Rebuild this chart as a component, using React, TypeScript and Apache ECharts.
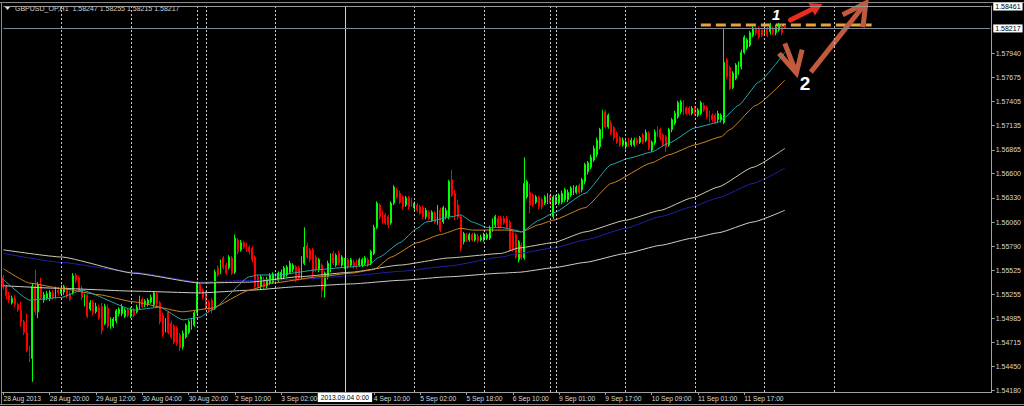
import React, { useEffect, useRef } from "react";
import * as echarts from "echarts";

// Hourly bars, each [open, high, low, close]
const aug28 = [
  [1.5544,1.5547,1.5531,1.5534],[1.5534,1.5536,1.5520,1.5524],[1.5524,1.5528,1.5516,1.5519],[1.5516,1.5524,1.5514,1.5521],
  [1.5521,1.5524,1.5511,1.5514],[1.5514,1.5516,1.5506,1.5508],[1.5508,1.5517,1.5489,1.5495],[1.5495,1.5497,1.5480,1.5483],
  [1.5483,1.5504,1.5461,1.5463],[1.5463,1.5468,1.5450,1.5454],[1.5454,1.5538,1.5428,1.5534],[1.5534,1.5553,1.5502,1.5506],
  [1.5506,1.5539,1.5499,1.5536],[1.5536,1.5544,1.5519,1.5522],[1.5519,1.5528,1.5516,1.5525],[1.5521,1.5529,1.5519,1.5526],
  [1.5521,1.5530,1.5518,1.5528],[1.5527,1.5530,1.5519,1.5522],[1.5524,1.5534,1.5521,1.5531],[1.5530,1.5534,1.5524,1.5527],
];
const aug29 = [
  [1.5526,1.5536,1.5524,1.5532],[1.5528,1.5536,1.5525,1.5534],[1.5531,1.5534,1.5521,1.5524],[1.5526,1.5529,1.5518,1.5520],
  [1.5527,1.5549,1.5525,1.5546],[1.5547,1.5549,1.5538,1.5541],[1.5544,1.5546,1.5528,1.5530],[1.5531,1.5535,1.5519,1.5522],
  [1.5516,1.5526,1.5512,1.5524],[1.5524,1.5526,1.5499,1.5501],[1.5509,1.5519,1.5507,1.5516],[1.5516,1.5519,1.5502,1.5505],
  [1.5506,1.5516,1.5504,1.5512],[1.5510,1.5514,1.5497,1.5499],[1.5512,1.5516,1.5481,1.5485],[1.5493,1.5515,1.5491,1.5512],
  [1.5510,1.5514,1.5488,1.5490],[1.5489,1.5500,1.5487,1.5498],[1.5490,1.5500,1.5488,1.5498],[1.5496,1.5509,1.5493,1.5507],
  [1.5504,1.5511,1.5501,1.5509],[1.5504,1.5515,1.5501,1.5512],[1.5501,1.5510,1.5499,1.5508],[1.5508,1.5510,1.5500,1.5502],
];
const aug30 = [
  [1.5501,1.5511,1.5499,1.5509],[1.5508,1.5510,1.5500,1.5502],[1.5506,1.5514,1.5504,1.5511],[1.5511,1.5524,1.5509,1.5521],
  [1.5520,1.5522,1.5510,1.5512],[1.5514,1.5520,1.5511,1.5518],[1.5515,1.5521,1.5512,1.5519],[1.5517,1.5525,1.5515,1.5522],
  [1.5514,1.5529,1.5511,1.5527],[1.5526,1.5528,1.5512,1.5515],[1.5516,1.5518,1.5492,1.5495],[1.5502,1.5505,1.5478,1.5480],
  [1.5486,1.5499,1.5483,1.5497],[1.5505,1.5507,1.5481,1.5483],[1.5493,1.5496,1.5476,1.5478],[1.5490,1.5492,1.5470,1.5472],
  [1.5488,1.5490,1.5468,1.5471],[1.5480,1.5482,1.5462,1.5466],[1.5467,1.5485,1.5464,1.5482],[1.5478,1.5493,1.5476,1.5491],
  [1.5483,1.5497,1.5481,1.5495],[1.5488,1.5499,1.5486,1.5497],[1.5491,1.5507,1.5489,1.5505],
];
const sep01 = [
  [1.5505,1.5540,1.5502,1.5538],[1.5536,1.5539,1.5526,1.5528],[1.5530,1.5532,1.5520,1.5522],
];
const sep02 = [
  [1.5527,1.5529,1.5508,1.5510],[1.5517,1.5519,1.5505,1.5508],[1.5519,1.5521,1.5504,1.5508],[1.5510,1.5553,1.5508,1.5550],
  [1.5555,1.5558,1.5545,1.5547],[1.5550,1.5564,1.5548,1.5561],[1.5566,1.5568,1.5553,1.5555],[1.5558,1.5561,1.5547,1.5549],
  [1.5555,1.5569,1.5553,1.5567],[1.5566,1.5568,1.5547,1.5549],[1.5550,1.5592,1.5548,1.5588],[1.5586,1.5588,1.5570,1.5573],
  [1.5575,1.5586,1.5573,1.5583],[1.5583,1.5585,1.5576,1.5578],[1.5580,1.5583,1.5573,1.5575],[1.5578,1.5580,1.5570,1.5573],
  [1.5577,1.5579,1.5561,1.5564],[1.5567,1.5569,1.5531,1.5534],[1.5545,1.5547,1.5531,1.5534],[1.5534,1.5547,1.5531,1.5545],
  [1.5542,1.5545,1.5531,1.5534],[1.5535,1.5545,1.5532,1.5542],[1.5538,1.5549,1.5536,1.5547],[1.5539,1.5550,1.5537,1.5548],
];
const sep03 = [
  [1.5547,1.5549,1.5537,1.5539],[1.5541,1.5551,1.5539,1.5549],[1.5544,1.5553,1.5541,1.5550],[1.5545,1.5557,1.5542,1.5555],
  [1.5547,1.5558,1.5545,1.5556],[1.5550,1.5563,1.5548,1.5560],[1.5553,1.5560,1.5550,1.5558],[1.5556,1.5558,1.5539,1.5541],
  [1.5555,1.5557,1.5541,1.5544],[1.5545,1.5568,1.5542,1.5566],[1.5560,1.5600,1.5558,1.5578],[1.5580,1.5583,1.5565,1.5567],
  [1.5575,1.5577,1.5561,1.5564],[1.5575,1.5577,1.5544,1.5550],[1.5567,1.5569,1.5550,1.5553],[1.5553,1.5566,1.5550,1.5564],
  [1.5558,1.5560,1.5522,1.5530],[1.5534,1.5551,1.5522,1.5549],[1.5545,1.5563,1.5542,1.5560],[1.5553,1.5571,1.5550,1.5569],
  [1.5571,1.5574,1.5558,1.5560],[1.5558,1.5571,1.5556,1.5569],[1.5571,1.5574,1.5558,1.5560],[1.5558,1.5569,1.5556,1.5567],
];
const sep04 = [
  [1.5556,1.5566,1.5554,1.5564],[1.5564,1.5566,1.5554,1.5556],[1.5558,1.5566,1.5556,1.5564],[1.5561,1.5564,1.5554,1.5556],
  [1.5561,1.5564,1.5554,1.5556],[1.5558,1.5566,1.5556,1.5564],[1.5558,1.5566,1.5556,1.5564],[1.5560,1.5568,1.5558,1.5566],
  [1.5564,1.5566,1.5556,1.5558],[1.5560,1.5575,1.5558,1.5573],[1.5571,1.5603,1.5569,1.5600],[1.5600,1.5629,1.5598,1.5627],
  [1.5625,1.5627,1.5609,1.5612],[1.5617,1.5619,1.5604,1.5606],[1.5614,1.5616,1.5603,1.5605],[1.5612,1.5614,1.5599,1.5603],
  [1.5605,1.5629,1.5603,1.5627],[1.5627,1.5647,1.5625,1.5645],[1.5642,1.5644,1.5632,1.5634],[1.5638,1.5641,1.5626,1.5628],
  [1.5634,1.5636,1.5620,1.5623],[1.5625,1.5635,1.5623,1.5633],[1.5633,1.5635,1.5620,1.5623],[1.5631,1.5633,1.5623,1.5625],
];
const sep05 = [
  [1.5622,1.5629,1.5619,1.5627],[1.5625,1.5627,1.5617,1.5619],[1.5623,1.5625,1.5614,1.5616],[1.5622,1.5624,1.5609,1.5612],
  [1.5612,1.5622,1.5609,1.5619],[1.5617,1.5619,1.5608,1.5610],[1.5608,1.5619,1.5606,1.5617],[1.5616,1.5618,1.5604,1.5606],
  [1.5605,1.5625,1.5603,1.5623],[1.5619,1.5622,1.5595,1.5597],[1.5606,1.5624,1.5604,1.5622],[1.5612,1.5622,1.5609,1.5619],
  [1.5612,1.5653,1.5609,1.5651],[1.5653,1.5664,1.5634,1.5636],[1.5638,1.5642,1.5608,1.5614],[1.5625,1.5631,1.5609,1.5612],
  [1.5612,1.5614,1.5573,1.5577],[1.5584,1.5595,1.5581,1.5593],[1.5592,1.5594,1.5584,1.5586],[1.5586,1.5594,1.5584,1.5592],
  [1.5592,1.5594,1.5584,1.5586],[1.5586,1.5594,1.5584,1.5592],[1.5590,1.5593,1.5583,1.5585],[1.5586,1.5592,1.5584,1.5589],
];
const sep06 = [
  [1.5586,1.5594,1.5584,1.5592],[1.5588,1.5594,1.5586,1.5592],[1.5588,1.5602,1.5586,1.5599],[1.5597,1.5610,1.5595,1.5608],
  [1.5603,1.5614,1.5600,1.5612],[1.5610,1.5613,1.5599,1.5602],[1.5610,1.5613,1.5600,1.5603],[1.5610,1.5613,1.5603,1.5605],
  [1.5610,1.5613,1.5598,1.5600],[1.5606,1.5608,1.5573,1.5575],[1.5594,1.5596,1.5573,1.5575],[1.5592,1.5594,1.5565,1.5567],
  [1.5564,1.5586,1.5561,1.5584],[1.5580,1.5583,1.5564,1.5566],[1.5566,1.5678,1.5564,1.5649],[1.5634,1.5653,1.5632,1.5651],
  [1.5639,1.5649,1.5616,1.5625],[1.5636,1.5638,1.5623,1.5625],[1.5628,1.5636,1.5626,1.5634],[1.5633,1.5635,1.5620,1.5623],
  [1.5631,1.5633,1.5620,1.5623],[1.5627,1.5636,1.5625,1.5634],[1.5628,1.5638,1.5626,1.5636],
];
const sep08 = [
  [1.5636,1.5638,1.5625,1.5627],[1.5612,1.5636,1.5609,1.5634],
];
const sep09 = [
  [1.5627,1.5636,1.5625,1.5634],[1.5627,1.5638,1.5625,1.5636],[1.5628,1.5641,1.5626,1.5638],[1.5631,1.5644,1.5628,1.5642],
  [1.5631,1.5642,1.5628,1.5639],[1.5636,1.5646,1.5634,1.5644],[1.5638,1.5647,1.5636,1.5645],[1.5639,1.5647,1.5637,1.5645],
  [1.5647,1.5649,1.5637,1.5639],[1.5642,1.5655,1.5639,1.5653],[1.5651,1.5672,1.5648,1.5670],[1.5662,1.5674,1.5659,1.5672],
  [1.5667,1.5681,1.5665,1.5678],[1.5675,1.5691,1.5673,1.5688],[1.5681,1.5700,1.5678,1.5697],[1.5690,1.5711,1.5687,1.5709],
  [1.5701,1.5731,1.5699,1.5729],[1.5729,1.5731,1.5710,1.5712],[1.5712,1.5727,1.5710,1.5725],[1.5716,1.5719,1.5703,1.5705],
  [1.5711,1.5713,1.5697,1.5700],[1.5705,1.5707,1.5693,1.5695],[1.5700,1.5702,1.5690,1.5692],[1.5692,1.5700,1.5690,1.5697],
];
const sep10 = [
  [1.5690,1.5697,1.5687,1.5695],[1.5697,1.5700,1.5690,1.5692],[1.5692,1.5700,1.5690,1.5697],[1.5692,1.5700,1.5690,1.5697],
  [1.5697,1.5700,1.5692,1.5694],[1.5695,1.5702,1.5693,1.5700],[1.5703,1.5705,1.5693,1.5695],[1.5697,1.5709,1.5695,1.5706],
  [1.5705,1.5707,1.5686,1.5688],[1.5686,1.5697,1.5684,1.5695],[1.5694,1.5709,1.5692,1.5706],[1.5711,1.5713,1.5701,1.5703],
  [1.5709,1.5711,1.5697,1.5700],[1.5703,1.5705,1.5690,1.5692],[1.5701,1.5703,1.5684,1.5690],[1.5692,1.5711,1.5690,1.5709],
  [1.5709,1.5722,1.5706,1.5720],[1.5716,1.5730,1.5714,1.5727],[1.5723,1.5741,1.5721,1.5739],[1.5729,1.5742,1.5726,1.5740],
  [1.5740,1.5742,1.5725,1.5727],[1.5733,1.5735,1.5725,1.5727],[1.5733,1.5735,1.5725,1.5727],[1.5727,1.5735,1.5725,1.5733],
];
const sep11 = [
  [1.5733,1.5735,1.5725,1.5727],[1.5725,1.5733,1.5723,1.5731],[1.5727,1.5741,1.5725,1.5739],[1.5736,1.5739,1.5729,1.5731],
  [1.5733,1.5735,1.5721,1.5723],[1.5727,1.5730,1.5717,1.5720],[1.5725,1.5727,1.5717,1.5720],[1.5725,1.5727,1.5715,1.5717],
  [1.5720,1.5730,1.5717,1.5727],[1.5720,1.5727,1.5717,1.5725],[1.5717,1.5822,1.5715,1.5784],[1.5787,1.5789,1.5765,1.5768],
  [1.5778,1.5780,1.5753,1.5755],[1.5756,1.5774,1.5754,1.5772],[1.5766,1.5783,1.5764,1.5781],[1.5772,1.5785,1.5770,1.5783],
  [1.5779,1.5798,1.5776,1.5795],[1.5795,1.5814,1.5793,1.5812],[1.5800,1.5811,1.5798,1.5809],[1.5803,1.5819,1.5801,1.5817],
  [1.5814,1.5824,1.5812,1.5822],[1.5822,1.5824,1.5814,1.5817],[1.5822,1.5824,1.5810,1.5812],[1.5820,1.5822,1.5812,1.5814],
];
const sep12 = [
  [1.5817,1.5824,1.5814,1.5822],[1.5822,1.5824,1.5812,1.5814],[1.5818,1.5828,1.5815,1.5826],[1.5822,1.5824,1.5814,1.5817],
  [1.5817,1.5826,1.5814,1.5823],[1.5820,1.5828,1.5818,1.5826],[1.5823,1.5826,1.5814,1.5817],[1.58247,1.58255,1.58215,1.58217],
];
const days = [aug28, aug29, aug30, sep01, sep02, sep03, sep04, sep05, sep06, sep08, sep09, sep10, sep11, sep12];

// Moving averages, [bar index, price]
const maCyan = [[0,1.5542],[9,1.5519],[20,1.5522],[27,1.5530],[45,1.5508],[54,1.5511],[62,1.5497],[68,1.5500],[72,1.5508],[85,1.5545],[88,1.5547],[95,1.5547],[109,1.5553],[120,1.5556],[126,1.5558],[130,1.5567],[137,1.5583],[143,1.5599],[146,1.5606],[155,1.5612],[158,1.5614],[162,1.5606],[167,1.5600],[172,1.5600],[177,1.5597],[179,1.5595],[185,1.5608],[190,1.5616],[201,1.5638],[210,1.5670],[216,1.5677],[224,1.5684],[230,1.5694],[239,1.5711],[247,1.5717],[249,1.5722],[254,1.5736],[261,1.5762],[270,1.5795]];
const maOrange = [[0,1.5554],[9,1.5538],[20,1.5532],[33,1.5525],[45,1.5517],[62,1.5506],[72,1.5510],[85,1.5530],[93,1.5538],[109,1.5545],[120,1.5549],[128,1.5553],[134,1.5567],[143,1.5583],[151,1.5592],[158,1.5599],[162,1.5597],[174,1.5597],[179,1.5595],[185,1.5603],[190,1.5608],[201,1.5622],[210,1.5649],[224,1.5672],[230,1.5681],[239,1.5692],[248,1.5701],[251,1.5709],[260,1.5736],[270,1.5764]];
const maBeige = [[0,1.5575],[20,1.5567],[45,1.5549],[68,1.5538],[85,1.5539],[102,1.5545],[120,1.5550],[137,1.5558],[154,1.5566],[172,1.5571],[178,1.5577],[190,1.5583],[201,1.5595],[215,1.5608],[227,1.5619],[238,1.5633],[247,1.5645],[259,1.5667],[270,1.5688]];
const maNavy = [[0,1.5571],[20,1.5561],[45,1.5550],[68,1.5539],[85,1.5541],[102,1.5542],[120,1.5546],[137,1.5551],[154,1.5557],[172,1.5567],[178,1.5571],[190,1.5577],[201,1.5586],[215,1.5599],[227,1.5612],[238,1.5623],[247,1.5633],[259,1.5649],[270,1.5666]];
const maWhite = [[0,1.5535],[20,1.5532],[45,1.5529],[68,1.5527],[85,1.5530],[102,1.5534],[120,1.5537],[137,1.5541],[154,1.5545],[172,1.5549],[178,1.5550],[190,1.5555],[201,1.5561],[215,1.5571],[227,1.5580],[238,1.5588],[247,1.5594],[259,1.5606],[270,1.5619]];

const slotCount = 342;
const xTickIdx = [0,16,32,48,64,80,96,128,144,160,176,192,208,224,240,256];
const xTickText = ["28 Aug 2013","28 Aug 20:00","29 Aug 12:00","30 Aug 04:00","30 Aug 20:00","2 Sep 10:00","3 Sep 02:00","4 Sep 10:00","5 Sep 02:00","5 Sep 18:00","6 Sep 10:00","9 Sep 01:00","9 Sep 17:00","10 Sep 09:00","11 Sep 01:00","11 Sep 17:00"];
const separatorIdx = [20,44,67,70,94,142,166,189,191,215,239,263,287];
const cursorIdx = 118;
const cursorText = "2013.09.04 0:00";
const yTicks = [1.5418,1.5445,1.54715,1.54985,1.55255,1.55525,1.5579,1.5606,1.5633,1.566,1.56865,1.57135,1.57405,1.57675,1.5794];
const yMin = 1.54166;
const yMax = 1.58467;
const lastPrice = 1.58217;
const topPrice = 1.58461;
const titleText = "GBPUSD_OP,H1  1.58247 1.58255 1.58215 1.58217";
const resistance = { from: 241, to: 300, price: 1.58255 };

const FONT = "'Liberation Sans', Arial, sans-serif";

export default function App() {
  const ref = useRef<HTMLDivElement>(null);
  useEffect(() => {
    document.body.style.margin = "0";
    document.body.style.background = "#000";
    const chart = echarts.init(ref.current!, null, { renderer: "svg" });
    const bars = days.flat();
    const candleData = bars.map((b) => [b[0], b[3], b[2], b[1]]);
    const categories = Array.from({ length: slotCount }, (_, i) => String(i));
    const tickMap = new Map<number, string>();
    xTickIdx.forEach((i, k) => tickMap.set(i, xTickText[k]));
    const tickInterval = (i: number) => tickMap.has(i);
    const maLine = (data: number[][], color: string, extra: any = {}) => ({
      type: "line",
      data,
      symbol: "none",
      showSymbol: false,
      smooth: 0.15,
      smoothMonotone: "x",
      silent: true,
      lineStyle: { color, width: 1 },
      ...extra,
    });
    const grey = "#a0a0a0";
    const boxLabel = (text: string) => ({
      show: true,
      position: "end",
      formatter: text,
      backgroundColor: "#fff",
      color: "#000",
      fontSize: 7,
      fontFamily: FONT,
      padding: [1, 2, 0, 2],
      distance: 3,
    });
    const markers = {
      markLine: {
        silent: true,
        symbol: ["none", "none"],
        animation: false,
        label: { show: false },
        data: [
          ...separatorIdx.map((i) => ({
            xAxis: i,
            lineStyle: { color: "#c8c8c8", type: [2, 2], width: 1 },
            label: { show: false },
          })),
          {
            xAxis: cursorIdx,
            lineStyle: { color: "#d0d0d0", type: "solid", width: 1 },
            label: {
              show: true,
              position: "start",
              formatter: cursorText,
              backgroundColor: "#fff",
              color: "#000",
              fontSize: 6.7,
              fontFamily: FONT,
              padding: [1, 3, 1, 3],
              distance: 1,
            },
          },
          [
            { coord: [0, lastPrice], lineStyle: { color: "#7d8b99", type: "solid", width: 1 }, label: boxLabel(lastPrice.toFixed(5)) },
            { coord: [slotCount - 1, lastPrice] },
          ],
          [
            { coord: [0, topPrice], lineStyle: { color: "#9a9a9a", type: "solid", width: 1 }, label: boxLabel(topPrice.toFixed(5)) },
            { coord: [slotCount - 1, topPrice] },
          ],
        ],
      },
    };
    const option: any = {
      animation: false,
      backgroundColor: "#000",
      grid: { left: 2, right: 32, top: 6, bottom: 14 },
      xAxis: {
        type: "category",
        data: categories,
        boundaryGap: true,
        axisLine: { lineStyle: { color: grey, width: 1 } },
        axisTick: { show: true, interval: tickInterval, alignWithLabel: true, length: 3, lineStyle: { color: grey } },
        axisLabel: {
          interval: tickInterval,
          formatter: (_v: string, i: number) => tickMap.get(i) ?? "",
          color: "#d8d8d8",
          fontSize: 6.7,
          fontFamily: FONT,
          align: "left",
          margin: 3,
          hideOverlap: false,
        },
        splitLine: { show: false },
      },
      yAxis: {
        type: "value",
        position: "right",
        min: yMin,
        max: yMax,
        axisLine: { show: true, lineStyle: { color: grey } },
        axisTick: { show: true, customValues: yTicks, length: 3, lineStyle: { color: grey } },
        axisLabel: {
          customValues: yTicks,
          formatter: (v: number) => v.toFixed(5),
          color: "#d8d8d8",
          fontSize: 7,
          fontFamily: FONT,
          margin: 4,
        },
        splitLine: { show: false },
      },
      series: [
        maLine([], "transparent", markers),
        {
          type: "candlestick",
          data: candleData,
          barWidth: 1.4,
          itemStyle: {
            color: "#00FF00",
            color0: "#FF0000",
            borderColor: "#00FF00",
            borderColor0: "#FF0000",
            borderWidth: 1,
          },
        },
        maLine(maWhite, "#cfcfcf"),
        maLine(maNavy, "#2020a8"),
        maLine(maBeige, "#d2cbb0"),
        maLine(maOrange, "#cc8520"),
        maLine(maCyan, "#26a8b0"),
      ],
    };
    chart.setOption(option);

    const px = (i: number, p: number) => chart.convertToPixel({ gridIndex: 0 }, [i, p]) as number[];
    const brown = "#c25a3e";
    const red = "#ee2a1e";
    const head = (a: number[], b: number[], len: number, half: number) => {
      const dx = b[0] - a[0];
      const dy = b[1] - a[1];
      const l = Math.hypot(dx, dy);
      const ux = dx / l, uy = dy / l;
      const bx = b[0] - ux * len, by = b[1] - uy * len;
      return {
        base: [bx, by],
        pts: [b, [bx - uy * half, by + ux * half], [bx + uy * half, by - ux * half]],
      };
    };
    const r0 = px(resistance.from, resistance.price);
    const r1 = px(resistance.to, resistance.price);
    const redA = px(272, 1.5831);
    const redB = px(283, 1.5849);
    const redHead = head(redA, redB, 12, 7);
    const dnA = px(270, 1.5805);
    const dnB = px(274, 1.5772);
    const dnL = px(268, 1.5794);
    const dnR = px(276, 1.5798);
    const upA = px(279, 1.5773);
    const upB = px(298, 1.5850);
    const upL = px(290, 1.5837);
    const upR = px(297, 1.5823);
    const one = px(267, 1.5837);
    const two = px(277, 1.5760);

    chart.setOption({
      graphic: [
        { type: "line", shape: { x1: 1.5, y1: 2, x2: 1.5, y2: 404 }, style: { stroke: "#8a8a8a", lineWidth: 1 }, silent: true },
        { type: "line", shape: { x1: 0, y1: 2.5, x2: 1024, y2: 2.5 }, style: { stroke: "#8a8a8a", lineWidth: 1 }, silent: true },
        { type: "line", shape: { x1: 0, y1: 404.5, x2: 1024, y2: 404.5 }, style: { stroke: "#8a8a8a", lineWidth: 1 }, silent: true },
        { type: "polygon", shape: { points: [[5, 7], [10, 7], [7.5, 10]] }, style: { fill: "#e0e0e0" }, silent: true },
        {
          type: "text",
          x: 15,
          y: 5,
          style: { text: titleText, fill: "#d0d0d0", fontSize: 7, fontFamily: FONT },
          silent: true,
        },
        {
          type: "line",
          shape: { x1: r0[0], y1: r0[1], x2: r1[0], y2: r1[1] },
          style: { stroke: "#e8a23a", lineWidth: 3, lineDash: [10, 5] },
          silent: true,
        },
        {
          type: "line",
          shape: { x1: redA[0], y1: redA[1], x2: redHead.base[0], y2: redHead.base[1] },
          style: { stroke: red, lineWidth: 5, lineCap: "round" },
          silent: true,
        },
        { type: "polygon", shape: { points: redHead.pts }, style: { fill: red }, silent: true },
        { type: "line", shape: { x1: dnA[0], y1: dnA[1], x2: dnB[0], y2: dnB[1] }, style: { stroke: brown, lineWidth: 5 }, silent: true },
        { type: "polyline", shape: { points: [dnL, dnB, dnR] }, style: { stroke: brown, lineWidth: 5, fill: null }, silent: true },
        { type: "line", shape: { x1: upA[0], y1: upA[1], x2: upB[0], y2: upB[1] }, style: { stroke: brown, lineWidth: 5 }, silent: true },
        { type: "polyline", shape: { points: [upL, upB, upR] }, style: { stroke: brown, lineWidth: 5, fill: null }, silent: true },
        {
          type: "text",
          x: one[0],
          y: one[1],
          style: { text: "1", fill: "#fff", fontSize: 15, fontWeight: "bold", fontStyle: "italic", fontFamily: FONT, align: "center", verticalAlign: "middle" },
          silent: true,
        },
        {
          type: "text",
          x: two[0],
          y: two[1],
          style: { text: "2", fill: "#fff", fontSize: 19, fontWeight: "bold", fontFamily: FONT, align: "center", verticalAlign: "middle" },
          silent: true,
        },
      ],
    });
    return () => chart.dispose();
  }, []);
  return <div ref={ref} style={{ width: 1024, height: 406, background: "#000" }} />;
}
